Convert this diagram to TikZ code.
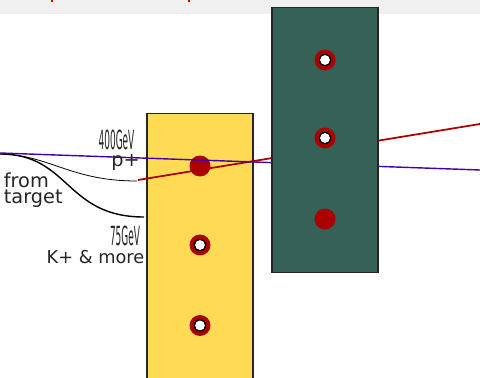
\documentclass[tikz,border=0pt]{standalone}
\usepackage{fontspec}
\setmainfont{DejaVu Sans}
\usepackage{xcolor}
\usetikzlibrary{positioning, arrows.meta, calc}
\definecolor{magnetyellow}{HTML}{FFDA55}
\definecolor{magnetgreen}{HTML}{356156}
\definecolor{beamred}{HTML}{AA0000}
\definecolor{beampurple}{HTML}{4400AA}
\definecolor{bandgray}{HTML}{F0F0F0}

\begin{document}
\begin{tikzpicture}[
  x=0.02cm, y=-0.02cm,
  font=\fontsize{10.1}{11}\selectfont,
  magnet/.style={draw=black!85, line width=0.7pt, minimum width=2.12cm, inner sep=0pt},
  solidhole/.style={circle, fill=beamred, minimum size=0.42cm, inner sep=0pt},
  ringhole/.style={solidhole, path picture={
      \fill[black] (path picture bounding box.center) circle (0.125cm);
      \fill[white] (path picture bounding box.center) circle (0.098cm);}},
  energy/.style={inner sep=0pt, xscale=0.34, text=black!85, font=\fontsize{15}{15}\selectfont},
  textlabel/.style={inner sep=0pt, align=left, text=black!85},
  widelabel/.style={textlabel, font=\fontsize{11}{12}\selectfont},
  beam/.style={line width=1pt, draw=beamred},
  trace/.style={line width=0.8pt, draw=beampurple},
]
\clip (0,0) rectangle (480,378);
\fill[white] (0,0) rectangle (480,378);
\fill[bandgray] (0,0) rectangle (480,14.5);
% cut-off heading
\draw[red!85!black, line width=1pt] (52,0) -- (52,2.5);
\draw[red!85!black, line width=1pt] (189,0) -- (189,2.5);
\draw[red!85!black, line width=1pt] (453,-1) arc[start angle=190, end angle=350, x radius=8, y radius=4];

\coordinate (beamstart) at (0,153);
\coordinate (kaonstart) at (0,154);
\coordinate (protonend) at (137,181);
\coordinate (kaonend) at (144,217);
\coordinate (redstart) at (138,180);
\coordinate (redend) at (480,124);
\coordinate (purpleend) at (480,170);

\node[magnet, fill=magnetyellow, minimum height=5.5cm, anchor=north] (lowermag) at (200,113) {};
\node[solidhole] (lowerA) at (200,166) {};
\node[ringhole] (lowerB) at (200,245) {};
\node[ringhole] (lowerC) at (200,325.5) {};

\draw[line width=0.45pt] (kaonstart) .. controls (50,155) and (70,181) .. (protonend);
\draw[line width=0.8pt] (kaonstart) .. controls (70,154) and (65,217) .. (kaonend);
\draw[beam] (redstart) -- (redend);
\draw[trace] (beamstart) -- (purpleend);

\node[magnet, fill=magnetgreen, minimum height=5.3cm, anchor=north] (uppermag) at (325,7) {};
\node[ringhole] (upperA) at (325,60) {};
\node[ringhole] (upperB) at (325,138) {};
\node[solidhole] (upperC) at (325,219) {};

\node[energy] (highgev) at (116.5,139.5) {400GeV};
\node[widelabel] (proton) at (125.5,162.5) {p+};
\node[widelabel, anchor=west] (from) at (3.5,180) {from};
\node[widelabel, anchor=west] (target) at (3.5,199) {target};
\node[energy] (lowgev) at (125,235.5) {75GeV};
\node[textlabel] (kaon) at (95.5,257) {K+ \& more};
\end{tikzpicture}
\end{document}
